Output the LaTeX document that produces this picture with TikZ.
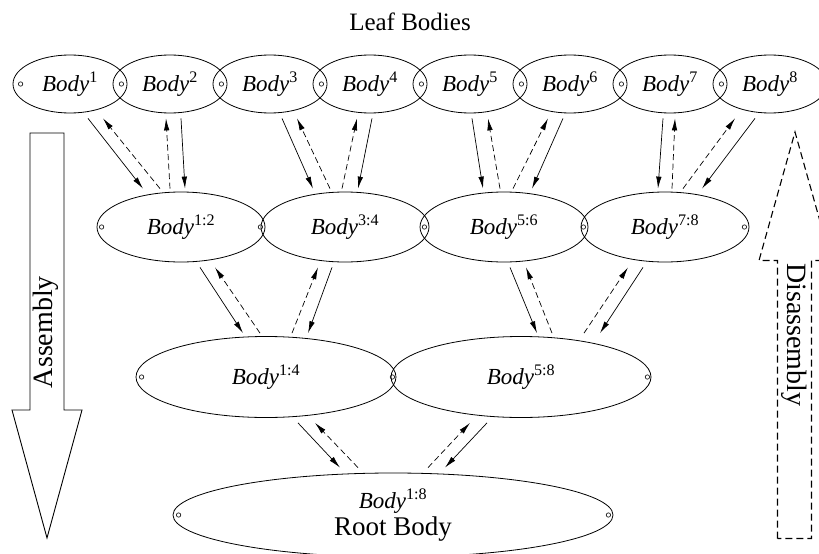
\documentclass[tikz,border=0pt]{standalone}
\usepackage{fontspec}
\setmainfont{Liberation Serif}
\usetikzlibrary{arrows.meta,calc,shapes.geometric}
\newcommand{\bdy}[1]{\textit{Body}\textsuperscript{#1}}

\begin{document}
\begin{tikzpicture}[x=1pt, y=-1pt, >={Latex[length=12pt,width=5.5pt]},
    body/.style={draw, ellipse, line width=0.8pt, inner sep=0pt, font=\fontsize{23}{26}\selectfont},
    leaf/.style={body, minimum width=114pt, minimum height=58pt},
    pairbody/.style={body, minimum width=168pt, minimum height=70pt},
    halfbody/.style={body, minimum width=260pt, minimum height=81pt},
    asm/.style={->, line width=0.7pt},
    dis/.style={->, line width=0.7pt, dash pattern=on 6pt off 3.5pt},
    hinge/.style={line width=0.6pt},
    bigarrow/.style={line width=0.9pt, line join=miter}]
    \useasboundingbox (0,0) rectangle (819,554);
    \clip (0,0) rectangle (819,554);

    % Nodes
    \node[anchor=base, font=\fontsize{25}{28}\selectfont] (title) at (410,30) {Leaf Bodies};
    \node[leaf] (b1) at (70,84) {\bdy{1}};
    \node[leaf] (b2) at (170,84) {\bdy{2}};
    \node[leaf] (b3) at (270,84) {\bdy{3}};
    \node[leaf] (b4) at (370,84) {\bdy{4}};
    \node[leaf] (b5) at (470,84) {\bdy{5}};
    \node[leaf] (b6) at (570,84) {\bdy{6}};
    \node[leaf] (b7) at (670,84) {\bdy{7}};
    \node[leaf] (b8) at (770,84) {\bdy{8}};
    \node[pairbody] (b12) at (181,227) {\bdy{1:2}};
    \node[pairbody] (b34) at (345,227) {\bdy{3:4}};
    \node[pairbody] (b56) at (504,227) {\bdy{5:6}};
    \node[pairbody] (b78) at (665,227) {\bdy{7:8}};
    \node[halfbody] (b14) at (266,377) {\bdy{1:4}};
    \node[halfbody] (b58) at (521,377) {\bdy{5:8}};
    \node[body, minimum width=440pt, minimum height=84pt, align=center] (b18) at (393,515)
        {\bdy{1:8}\\[1pt]{\fontsize{27}{27}\selectfont Root Body}};

    % Hinge circles
    \draw[hinge] ($(b1.west)+(8,0)$) circle (2.2) ($(b1.east)+(-6,0)$) circle (2.2)
        ($(b2.east)+(-6,0)$) circle (2.2) ($(b3.east)+(-6,0)$) circle (2.2)
        ($(b4.east)+(-6,0)$) circle (2.2) ($(b5.east)+(-6,0)$) circle (2.2)
        ($(b6.east)+(-6,0)$) circle (2.2) ($(b7.east)+(-6,0)$) circle (2.2);
    \draw[hinge] ($(b12.west)+(5,0)$) circle (2.2) ($(b12.east)+(-5,0)$) circle (2.2)
        ($(b34.east)+(-5,0)$) circle (2.2) ($(b56.east)+(-5,0)$) circle (2.2)
        ($(b78.east)+(-5,0)$) circle (2.2);
    \draw[hinge] ($(b14.west)+(6,0)$) circle (2.2) ($(b14.east)+(-4,0)$) circle (2.2)
        ($(b58.east)+(-4,0)$) circle (2.2);
    \draw[hinge] ($(b18.west)+(6,0)$) circle (2.2) ($(b18.east)+(-5,0)$) circle (2.2);

    % Arrows: leaves <-> pairs
    \draw[asm] ($(b1.south)+(18,5)$) -- ($(b12.north)+(-38,-3)$);
    \draw[dis] ($(b12.north)+(-21,-3)$) -- ($(b1.south)+(33,5)$);
    \draw[dis] ($(b12.north)+(-11,-3)$) -- ($(b2.south)+(-4,5)$);
    \draw[asm] ($(b2.south)+(11,5)$) -- ($(b12.north)+(4,-3)$);
    \draw[asm] ($(b3.south)+(12,5)$) -- ($(b34.north)+(-32,-3)$);
    \draw[dis] ($(b34.north)+(-15,-3)$) -- ($(b3.south)+(27,5)$);
    \draw[dis] ($(b34.north)+(-3,-3)$) -- ($(b4.south)+(-13,5)$);
    \draw[asm] ($(b4.south)+(2,5)$) -- ($(b34.north)+(13,-3)$);
    \draw[asm] ($(b5.south)+(2,5)$) -- ($(b56.north)+(-21,-3)$);
    \draw[dis] ($(b56.north)+(-4,-3)$) -- ($(b5.south)+(18,5)$);
    \draw[dis] ($(b56.north)+(9,-3)$) -- ($(b6.south)+(-22,5)$);
    \draw[asm] ($(b6.south)+(-7,5)$) -- ($(b56.north)+(28,-3)$);
    \draw[asm] ($(b7.south)+(-7,5)$) -- ($(b78.north)+(-7,-3)$);
    \draw[dis] ($(b78.north)+(7,-3)$) -- ($(b7.south)+(5,5)$);
    \draw[dis] ($(b78.north)+(18,-3)$) -- ($(b8.south)+(-35,5)$);
    \draw[asm] ($(b8.south)+(-15,5)$) -- ($(b78.north)+(37,-3)$);

    % Arrows: pairs <-> halves
    \draw[asm] ($(b12.south)+(19,5)$) -- ($(b14.north)+(-23,-3)$);
    \draw[dis] ($(b14.north)+(-6,-3)$) -- ($(b12.south)+(34,5)$);
    \draw[dis] ($(b14.north)+(26,-3)$) -- ($(b34.south)+(-27,5)$);
    \draw[asm] ($(b34.south)+(-13,5)$) -- ($(b14.north)+(42,-3)$);
    \draw[asm] ($(b56.south)+(6,5)$) -- ($(b58.north)+(16,-3)$);
    \draw[dis] ($(b58.north)+(31,-3)$) -- ($(b56.south)+(22,5)$);
    \draw[dis] ($(b58.north)+(63,-3)$) -- ($(b78.south)+(-37,5)$);
    \draw[asm] ($(b78.south)+(-22,5)$) -- ($(b58.north)+(79,-3)$);

    % Arrows: halves <-> root
    \draw[asm] ($(b14.south)+(32,5)$) -- ($(b18.north)+(-53,-5)$);
    \draw[dis] ($(b18.north)+(-35,-5)$) -- ($(b14.south)+(49,5)$);
    \draw[dis] ($(b18.north)+(35,-5)$) -- ($(b58.south)+(-51,5)$);
    \draw[asm] ($(b58.south)+(-34,5)$) -- ($(b18.north)+(52,-5)$);

    % Side arrows
    \draw[bigarrow] (30,133) -- (30,410) -- (12,410) -- (47,538) -- (82,410) -- (64,410) -- (64,133) -- cycle;
    \node[rotate=90, font=\fontsize{28}{30}\selectfont] (asmlabel) at (46,332) {Assembly};
    \draw[bigarrow, line width=1.1pt, dash pattern=on 7pt off 4pt] (777.5,538.5) -- (777.5,260.5) -- (759,260.5) -- (795,132) -- (831,260.5) -- (811.5,260.5) -- (811.5,538.5) -- cycle;
    \node[rotate=-90, font=\fontsize{28}{30}\selectfont] (dislabel) at (794,335) {Disassembly};
\end{tikzpicture}
\end{document}
